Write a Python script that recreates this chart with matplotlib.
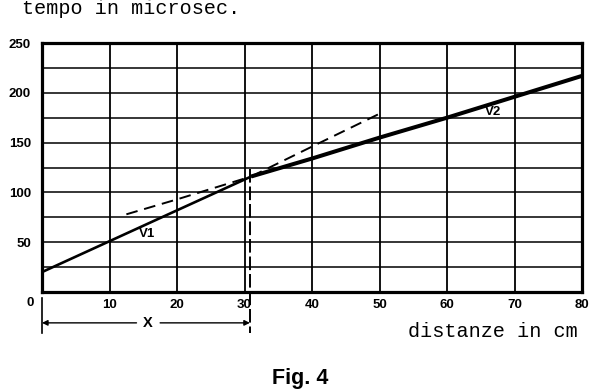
import matplotlib
matplotlib.use("Agg")
import matplotlib.pyplot as plt

# data
v1_x = [0, 10, 20, 31]
v1_y = [20, 51, 82, 116]
v2_x = [31, 40, 50, 60, 70, 80]
v2_y = [116, 134, 155, 175, 196, 217]
# dashed extensions: V2 extended backwards, V1 extended forwards
dash_v2_x = [12.5, 20, 31]
dash_v2_y = [78, 93, 116]
dash_v1_x = [31, 40, 50]
dash_v1_y = [116, 146, 179]
xticks = [10, 20, 30, 40, 50, 60, 70, 80]
yticks = [50, 100, 150, 200, 250]
x_break = 30.8

fig = plt.figure(figsize=(6, 3.9), dpi=100)
ax = fig.add_axes([0.07, 0.2513, 0.90, 0.6384])
ax.set_xlim(0, 80)
ax.set_ylim(0, 250)

for xv in range(10, 80, 10):
    ax.axvline(xv, color="black", lw=1.3, zorder=1)
for yv in range(25, 250, 25):
    ax.axhline(yv, color="black", lw=1.1, zorder=1)

for s in ax.spines.values():
    s.set_linewidth(2.3)

ax.set_xticks(xticks)
ax.set_yticks(yticks)
ax.tick_params(length=0, pad=8)
for lab in ax.get_xticklabels() + ax.get_yticklabels():
    lab.set_fontfamily("Liberation Sans")
    lab.set_fontweight("bold")
    lab.set_fontsize(9.5)
ax.tick_params(axis="x", pad=5)

ax.plot(v1_x, v1_y, color="black", lw=1.9, zorder=3, solid_capstyle="butt")
ax.plot(v2_x, v2_y, color="black", lw=2.9, zorder=3, solid_capstyle="butt")
ax.plot(dash_v2_x, dash_v2_y, color="black", lw=1.4, dashes=(6, 3.5), zorder=3)
ax.plot(dash_v1_x, dash_v1_y, color="black", lw=1.4, dashes=(6, 3.5), zorder=3)

# vertical dashed line at break, extending below axis
ax.plot([x_break, x_break], [123, -41], color="black", lw=1.4, dashes=(7, 2),
        clip_on=False, zorder=3)
# left vertical mark below axis
ax.plot([0, 0], [-6, -41], color="black", lw=1.2, clip_on=False)

# X arrows
ax.annotate("", xy=(0, -31), xytext=(14, -31),
            arrowprops=dict(arrowstyle="-|>", color="black", lw=1.0,
                            mutation_scale=8, shrinkA=0, shrinkB=0),
            annotation_clip=False)
ax.annotate("", xy=(x_break, -31), xytext=(17.5, -31),
            arrowprops=dict(arrowstyle="-|>", color="black", lw=1.0,
                            mutation_scale=8, shrinkA=0, shrinkB=0),
            annotation_clip=False)
ax.text(15.7, -31, "X", ha="center", va="center", fontsize=10.5,
        fontweight="bold", family="Liberation Sans")

ax.text(-1.8, -11, "0", ha="center", va="center", fontsize=9.5,
        fontweight="bold", family="Liberation Sans", clip_on=False)

ax.text(15.6, 58, "V1", ha="center", va="center", fontsize=9.5,
        fontweight="bold", family="Liberation Sans")
ax.text(66.8, 181, "V2", ha="center", va="center", fontsize=9.5,
        fontweight="bold", family="Liberation Sans")

fig.text(22 / 600, 1 - 14 / 390, "tempo in microsec.", family="Liberation Mono",
         fontsize=14.5, ha="left", va="baseline")
fig.text(578 / 600, 1 - 337 / 390, "distanze in cm", family="Liberation Mono",
         fontsize=14.5, ha="right", va="baseline")
fig.text(0.5, 1 - 384 / 390, "Fig. 4", family="Liberation Sans", fontweight="bold",
         fontsize=15.5, ha="center", va="baseline")

fig.savefig("out.png", dpi=100)
